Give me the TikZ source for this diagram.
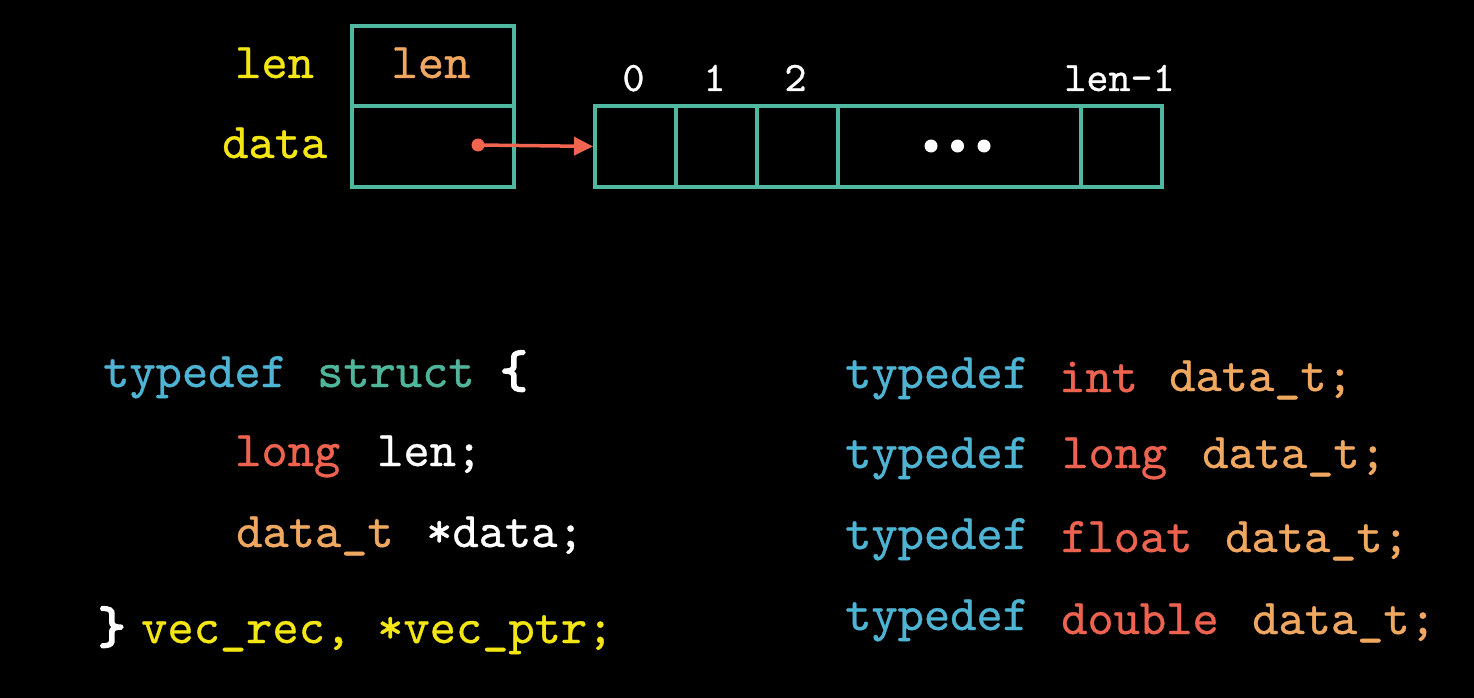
\documentclass[tikz,border=0pt]{standalone}
\usepackage{fontspec}
\usetikzlibrary{arrows.meta}
\newfontfamily\codefont{lmmono10-regular.otf}[FakeBold=0.7]
\newfontfamily\codefontb{lmmono10-regular.otf}[FakeBold=4]
\definecolor{bgc}{RGB}{0,0,0}
\definecolor{boxc}{RGB}{80,184,160}
\definecolor{kwblue}{RGB}{78,180,212}
\definecolor{kwteal}{RGB}{80,182,155}
\definecolor{kwred}{RGB}{238,98,80}
\definecolor{kworange}{RGB}{240,168,96}
\definecolor{kwyellow}{RGB}{244,230,20}
\definecolor{arrowc}{RGB}{240,100,80}
\tikzset{
  code/.style={anchor=base west, inner sep=0pt, font=\codefont\fontsize{50}{58}\selectfont},
  codec/.style={anchor=base, inner sep=0pt, font=\codefont\fontsize{50}{58}\selectfont},
  braces/.style={anchor=base west, inner sep=0pt, font=\codefontb\fontsize{52}{58}\selectfont},
  idx/.style={anchor=base, inner sep=0pt, text=white, font=\codefont\fontsize{42}{48}\selectfont},
  cell/.style={draw=boxc, line width=3.8pt, inner sep=0pt, anchor=north west, minimum height=81pt},
  dotc/.style={circle, fill=white, inner sep=0pt, minimum size=13pt},
}
\begin{document}
\begin{tikzpicture}[x=1pt,y=-1pt]
\fill[bgc] (0,0) rectangle (1474,698);
\useasboundingbox (0,0) rectangle (1474,698);
% struct box
\node[cell, minimum width=162pt, minimum height=80pt] (lenbox) at (350,24) {};
\node[cell, minimum width=162pt] (databox) at (350,104) {};
\node[code, text=kwyellow] (lenlbl) at (235,78) {len};
\node[code, text=kwyellow] (datalbl) at (222,158) {data};
\node[codec, text=kworange] (lenval) at (431,78) {len};
% array
\node[cell, minimum width=81pt] (c0) at (593,104) {};
\node[cell, minimum width=81pt] (c1) at (674,104) {};
\node[cell, minimum width=81pt] (c2) at (755,104) {};
\node[cell, minimum width=243pt] (cd) at (836,104) {};
\node[cell, minimum width=81pt] (cl) at (1079,104) {};
\node[idx] (i0) at (633.5,91) {0};
\node[idx] (i1) at (714.5,91) {1};
\node[idx] (i2) at (795.5,91) {2};
\node[idx] (il) at (1119.5,91) {len-1};
\node[dotc] (d1) at (931,146) {};
\node[dotc] (d2) at (957.5,146) {};
\node[dotc] (d3) at (984,146) {};
% pointer
\node[circle, fill=arrowc, inner sep=0pt, minimum size=13pt] (ptr) at (478,145) {};
\draw[arrowc, line width=3.5pt, -{Triangle[length=19pt,width=18pt]}] (ptr.center) -- (c0.west);
% left code
\node[code, text=kwblue] (t1) at (103,387) {typedef};
\node[code, text=kwteal] (st) at (317,387) {struct};
\node[braces, text=white] (lb) at (500,387) {\{};
\node[code, text=kwred] (lg) at (235,466) {long};
\node[code, text=white] (ln) at (377,466) {len;};
\node[code, text=kworange] (dt) at (236,547) {data\_t};
\node[code, text=white] (dd) at (426,547) {*data;};
\node[braces, text=white] (rb) at (98,643) {\}};
\node[code, text=kwyellow] (vr) at (141,643) {vec\_rec,};
\node[code, text=kwyellow] (vp) at (377,643) {*vec\_ptr;};
% right code
\node[code, text=kwblue] (ta) at (845,388) {typedef};
\node[code, text=kwblue] (tb) at (845,468) {typedef};
\node[code, text=kwblue] (tc) at (845,549) {typedef};
\node[code, text=kwblue] (td) at (845,630) {typedef};
\node[code, text=kwred] (ya) at (1059,392) {int};
\node[code, text=kwred] (yb) at (1062,468) {long};
\node[code, text=kwred] (yc) at (1061,552) {float};
\node[code, text=kwred] (yd) at (1061,634) {double};
\node[code, text=kworange] (da) at (1169,391) {data\_t;};
\node[code, text=kworange] (db) at (1202,468) {data\_t;};
\node[code, text=kworange] (dc) at (1225,552) {data\_t;};
\node[code, text=kworange] (dd2) at (1252,634) {data\_t;};
\end{tikzpicture}
\end{document}
